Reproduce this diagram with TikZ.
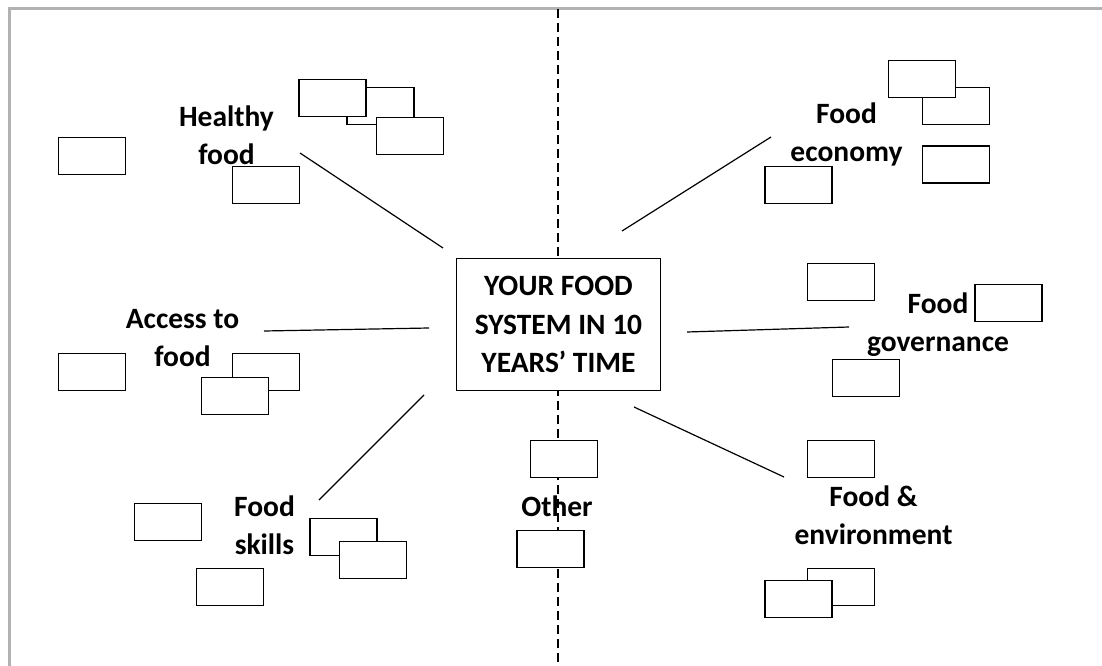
\documentclass[tikz,border=0pt]{standalone}
\usepackage{fontspec}
\setmainfont{Carlito}
\begin{document}
\begin{tikzpicture}[x=1pt,y=-1pt,
  blank/.style={draw,fill=white,line width=1.5pt,minimum width=67pt,minimum height=37pt,inner sep=0pt},
  topic/.style={align=center,inner sep=0pt,font=\fontsize{29.5}{38}\selectfont\bfseries},
  spoke/.style={line width=1.2pt}]
\useasboundingbox (0,0) rectangle (1102,666);
\draw [gray!60,line width=3pt] (9,680) -- (9,9) -- (1110,9);
\draw [line width=1.3pt,dash pattern=on 9pt off 5pt] (558,9) -- (558,666);
% centre
\node [draw,fill=white,line width=1.5pt,minimum width=204pt,minimum height=132pt,inner sep=0pt,
  align=center,font=\fontsize{29.5}{38.5}\selectfont\bfseries] (centre) at (558.5,324.5)
  {YOUR FOOD\\SYSTEM IN 10\\YEARS' TIME};
% topics
\node [topic] (healthy) at (226.5,135) {Healthy\\food};
\node [topic] (access) at (182.5,338) {Access to\\food};
\node [topic] (skills) at (264.5,525) {Food\\skills};
\node [topic] (other) at (557,506) {Other};
\node [topic] (economy) at (846.5,134.5) {Food\\economy};
\node [topic] (governance) at (938,324.5) {Food\\governance};
\node [topic] (environment) at (873.5,515) {Food \&\\environment};
% spokes
\coordinate (hf1) at (443,248); \coordinate (hf2) at (300,153);
\coordinate (af1) at (429,328); \coordinate (af2) at (264,331);
\coordinate (fs1) at (424,395); \coordinate (fs2) at (319,500);
\coordinate (ec1) at (622,231); \coordinate (ec2) at (771,137);
\coordinate (gv1) at (687,332); \coordinate (gv2) at (849,327);
\coordinate (ev1) at (634,407); \coordinate (ev2) at (784,477);
\draw [spoke] (hf1) -- (hf2);
\draw [spoke] (af1) -- (af2);
\draw [spoke] (fs1) -- (fs2);
\draw [spoke] (ec1) -- (ec2);
\draw [spoke] (gv1) -- (gv2);
\draw [spoke] (ev1) -- (ev2);
% empty boxes
\node [blank] (hfA) at (92,156) {};
\node [blank] (hfB) at (266,185) {};
\node [blank] (hfD) at (380.5,106) {};
\node [blank] (hfC) at (332.5,98) {};
\node [blank] (hfE) at (410,136) {};
\node [blank] (afA) at (92,372) {};
\node [blank] (afB) at (266,372) {};
\node [blank] (afC) at (235,396) {};
\node [blank] (fsA) at (168,522) {};
\node [blank] (fsB) at (230,587) {};
\node [blank] (fsC) at (343.5,537) {};
\node [blank] (fsD) at (373,560) {};
\node [blank] (otA) at (564,459) {};
\node [blank] (otB) at (550.5,549) {};
\node [blank] (ecA) at (798.5,185) {};
\node [blank] (ecC) at (956,106) {};
\node [blank] (ecB) at (922,79) {};
\node [blank] (ecD) at (956,164.5) {};
\node [blank] (gvA) at (841,282) {};
\node [blank] (gvB) at (1008.5,303) {};
\node [blank] (gvC) at (866,378) {};
\node [blank] (evA) at (841,459) {};
\node [blank] (evC) at (841,587) {};
\node [blank] (evB) at (798.5,599) {};
\end{tikzpicture}
\end{document}
